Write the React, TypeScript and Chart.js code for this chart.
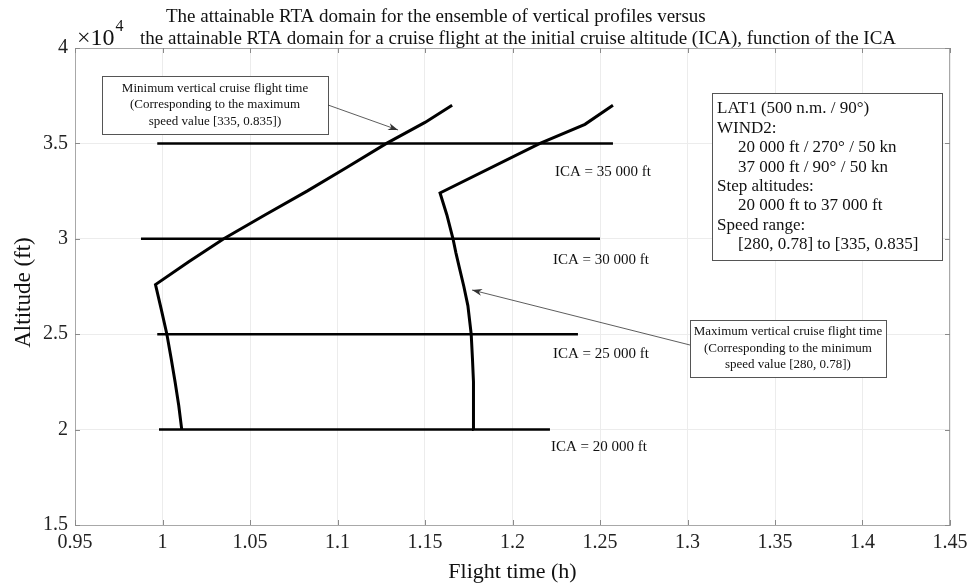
import React, { useEffect, useRef } from "react";
import { Chart, registerables } from "chart.js";

Chart.register(...registerables);

const FONT = "'Liberation Serif', 'Times New Roman', serif";

// Axis ticks
const xTickValues = [0.95, 1.0, 1.05, 1.1, 1.15, 1.2, 1.25, 1.3, 1.35, 1.4, 1.45];
const xTickLabels = ["0.95", "1", "1.05", "1.1", "1.15", "1.2", "1.25", "1.3", "1.35", "1.4", "1.45"];
const yTickValues = [15000, 20000, 25000, 30000, 35000, 40000];
const yTickLabels = ["1.5", "2", "2.5", "3", "3.5", "4"];

// Minimum vertical cruise flight time (max speed)
const minCurveTime = [1.011, 1.0093, 1.0072, 1.0049, 1.0025, 0.9993, 0.996, 1.015, 1.035, 1.0585, 1.0826, 1.1055, 1.128, 1.15, 1.1655];
const minCurveAlt = [20000, 21250, 22500, 23750, 25000, 26300, 27600, 28800, 30000, 31250, 32500, 33750, 35000, 36100, 37000];

// Maximum vertical cruise flight time (min speed)
const maxCurveTime = [1.1778, 1.1778, 1.1776, 1.1771, 1.1764, 1.1745, 1.1722, 1.1696, 1.1677, 1.166, 1.1625, 1.1586, 1.2157, 1.2414, 1.2574];
const maxCurveAlt = [20000, 21250, 22500, 23750, 25000, 26500, 27500, 28500, 29250, 30000, 31250, 32400, 35000, 36000, 37000];

// Cruise at initial cruise altitude
const icaAltitudes = [20000, 25000, 30000, 35000];
const icaStartTime = [0.998, 0.997, 0.9877, 0.997];
const icaEndTime = [1.2214, 1.2374, 1.25, 1.2574];
const icaLabels = ["ICA = 20 000 ft", "ICA = 25 000 ft", "ICA = 30 000 ft", "ICA = 35 000 ft"];
const icaLabelTime = [1.222, 1.2231, 1.2231, 1.2243];
const icaLabelAlt = [19088, 23962, 28888, 33500];

const titleLines = [
  "The attainable RTA domain for the ensemble of vertical profiles versus",
  "the attainable RTA domain for a cruise flight at the initial cruise altitude (ICA), function of the ICA",
];
const xTitle = "Flight time (h)";
const yTitle = "Altitude (ft)";

const minNote = [
  "Minimum vertical cruise flight time",
  "(Corresponding to the maximum",
  "speed value [335, 0.835])",
];
const maxNote = [
  "Maximum vertical cruise flight time",
  "(Corresponding to the minimum",
  "speed value [280, 0.78])",
];
const infoLines = [
  "LAT1 (500 n.m. / 90°)",
  "WIND2:",
  "    20 000 ft / 270° / 50 kn",
  "    37 000 ft / 90° / 50 kn",
  "Step altitudes:",
  "    20 000 ft to 37 000 ft",
  "Speed range:",
  "    [280, 0.78] to [335, 0.835]",
];

function toPts(xs: number[], ys: number[]) {
  return xs.map((v, i) => ({ x: v, y: ys[i] }));
}

function arrow(ctx: CanvasRenderingContext2D, x1: number, y1: number, x2: number, y2: number) {
  ctx.strokeStyle = "#333";
  ctx.fillStyle = "#333";
  ctx.lineWidth = 0.8;
  ctx.beginPath();
  ctx.moveTo(x1, y1);
  ctx.lineTo(x2, y2);
  ctx.stroke();
  const ang = Math.atan2(y2 - y1, x2 - x1);
  const L = 10, W = 3.5;
  const bx = x2 - L * Math.cos(ang), by = y2 - L * Math.sin(ang);
  const mx = x2 - 0.7 * L * Math.cos(ang), my = y2 - 0.7 * L * Math.sin(ang);
  ctx.beginPath();
  ctx.moveTo(x2, y2);
  ctx.lineTo(bx + W * Math.sin(ang), by - W * Math.cos(ang));
  ctx.lineTo(mx, my);
  ctx.lineTo(bx - W * Math.sin(ang), by + W * Math.cos(ang));
  ctx.closePath();
  ctx.fill();
}

const overlay = {
  id: "overlay",
  afterDraw(chart: any) {
    const { ctx, chartArea: a, scales } = chart;
    const xs = scales.x, ys = scales.y;
    const X = (v: number) => xs.getPixelForValue(v);
    const Y = (v: number) => ys.getPixelForValue(v);
    ctx.save();

    // box (top/right)
    ctx.strokeStyle = "#a8a8a8";
    ctx.lineWidth = 1;
    ctx.beginPath();
    ctx.moveTo(a.left, a.top + 0.5);
    ctx.lineTo(a.right - 0.5, a.top + 0.5);
    ctx.lineTo(a.right - 0.5, a.bottom);
    ctx.stroke();

    // inward ticks
    ctx.strokeStyle = "#8a8a8a";
    xTickValues.forEach((v) => {
      const p = Math.round(X(v)) + 0.5;
      ctx.beginPath();
      ctx.moveTo(p, a.bottom);
      ctx.lineTo(p, a.bottom - 5);
      ctx.moveTo(p, a.top);
      ctx.lineTo(p, a.top + 5);
      ctx.stroke();
    });
    yTickValues.forEach((v) => {
      const p = Math.round(Y(v)) + 0.5;
      ctx.beginPath();
      ctx.moveTo(a.left, p);
      ctx.lineTo(a.left + 5, p);
      ctx.moveTo(a.right, p);
      ctx.lineTo(a.right - 5, p);
      ctx.stroke();
    });

    ctx.fillStyle = "#111";
    ctx.textBaseline = "alphabetic";

    // title
    ctx.font = `19px ${FONT}`;
    ctx.textAlign = "left";
    ctx.fillText(titleLines[0], 166, 22);
    ctx.fillText(titleLines[1], 140, 44);

    // exponent
    ctx.font = `24px ${FONT}`;
    ctx.fillText("×10", 77, 45);
    const w = ctx.measureText("×10").width;
    ctx.font = `16px ${FONT}`;
    ctx.fillText("4", 77 + w + 1, 31);

    // axis titles
    ctx.font = `22px ${FONT}`;
    ctx.textAlign = "center";
    ctx.fillText(xTitle, (a.left + a.right) / 2, 578);
    ctx.save();
    ctx.translate(30, (a.top + a.bottom) / 2 + 6);
    ctx.rotate(-Math.PI / 2);
    ctx.font = `23px ${FONT}`;
    ctx.fillText(yTitle, 0, 0);
    ctx.restore();

    // ICA labels
    ctx.font = `15px ${FONT}`;
    ctx.textAlign = "left";
    ctx.textBaseline = "middle";
    icaLabels.forEach((t, i) => ctx.fillText(t, X(icaLabelTime[i]), Y(icaLabelAlt[i])));

    // note boxes
    const noteBox = (lines: string[], x0: number, y0: number, x1: number, y1: number) => {
      const l = X(x0), t = Y(y0), r = X(x1), b = Y(y1);
      ctx.fillStyle = "#fff";
      ctx.fillRect(l, t, r - l, b - t);
      ctx.strokeStyle = "#555";
      ctx.lineWidth = 1;
      ctx.strokeRect(Math.round(l) + 0.5, Math.round(t) + 0.5, Math.round(r - l), Math.round(b - t));
      ctx.fillStyle = "#111";
      ctx.font = `13px ${FONT}`;
      ctx.textAlign = "center";
      ctx.textBaseline = "middle";
      const cx = (l + r) / 2, cy = (t + b) / 2;
      lines.forEach((s, i) => ctx.fillText(s, cx, cy + (i - 1) * 16.5));
    };
    noteBox(minNote, 0.9654, 38532, 1.0946, 35493);
    arrow(ctx, X(1.0946), Y(37012), X(1.1346), Y(35702));
    noteBox(maxNote, 1.3014, 25744, 1.4134, 22757);
    arrow(ctx, X(1.3014), Y(24434), X(1.1769), Y(27316));

    // info box
    {
      const l = X(1.314), t = Y(37641), r = X(1.4454), b = Y(28889);
      ctx.fillStyle = "#fff";
      ctx.fillRect(l, t, r - l, b - t);
      ctx.strokeStyle = "#555";
      ctx.lineWidth = 1;
      ctx.strokeRect(Math.round(l) + 0.5, Math.round(t) + 0.5, Math.round(r - l), Math.round(b - t));
      ctx.fillStyle = "#111";
      ctx.font = `17px ${FONT}`;
      ctx.textAlign = "left";
      ctx.textBaseline = "middle";
      infoLines.forEach((s, i) => {
        const indent = s.startsWith("    ");
        ctx.fillText(s.trim(), l + (indent ? 26 : 5), t + 16 + i * 19.4);
      });
    }

    ctx.restore();
  },
};

export default function App() {
  const ref = useRef<HTMLCanvasElement | null>(null);
  useEffect(() => {
    if (!ref.current) return;
    const line = (data: any[], width: number) => ({
      data,
      showLine: true,
      borderColor: "#000",
      backgroundColor: "#000",
      borderWidth: width,
      pointRadius: 0,
      tension: 0,
      fill: false,
      borderJoinStyle: "miter",
    });
    const datasets: any[] = [
      line(toPts(minCurveTime, minCurveAlt), 3),
      line(toPts(maxCurveTime, maxCurveAlt), 3),
      ...icaAltitudes.map((alt, i) =>
        line([{ x: icaStartTime[i], y: alt }, { x: icaEndTime[i], y: alt }], 2.5)
      ),
    ];
    const chart = new Chart(ref.current, {
      type: "scatter",
      data: { datasets },
      options: {
        responsive: false,
        animation: false,
        devicePixelRatio: 1,
        layout: { padding: { left: 0, top: 48, right: 24, bottom: 0 } },
        plugins: { legend: { display: false }, tooltip: { enabled: false }, title: { display: false } },
        scales: {
          x: {
            type: "linear",
            min: 0.95,
            max: 1.45,
            afterBuildTicks: (s: any) => {
              s.ticks = xTickValues.map((v) => ({ value: v }));
            },
            afterFit: (s: any) => {
              s.height = 59;
            },
            ticks: {
              autoSkip: false,
              maxRotation: 0,
              padding: 6,
              color: "#222",
              font: { family: FONT, size: 20 },
              callback: (_v: any, i: number) => xTickLabels[i],
            },
            grid: { color: "#ececec", lineWidth: 1, drawTicks: false },
            border: { display: true, color: "#a8a8a8" },
          },
          y: {
            type: "linear",
            min: 15000,
            max: 40000,
            afterBuildTicks: (s: any) => {
              s.ticks = yTickValues.map((v) => ({ value: v }));
            },
            afterFit: (s: any) => {
              s.width = 75;
            },
            ticks: {
              autoSkip: false,
              padding: 7,
              color: "#222",
              font: { family: FONT, size: 20 },
              callback: (_v: any, i: number) => yTickLabels[i],
            },
            grid: { color: "#ececec", lineWidth: 1, drawTicks: false },
            border: { display: true, color: "#a8a8a8" },
          },
        },
      },
      plugins: [overlay],
    });
    return () => chart.destroy();
  }, []);
  return (
    <div style={{ position: "absolute", left: 0, top: 0, width: 974, height: 584, background: "#fff" }}>
      <canvas ref={ref} width={974} height={584} style={{ display: "block" }} />
    </div>
  );
}
